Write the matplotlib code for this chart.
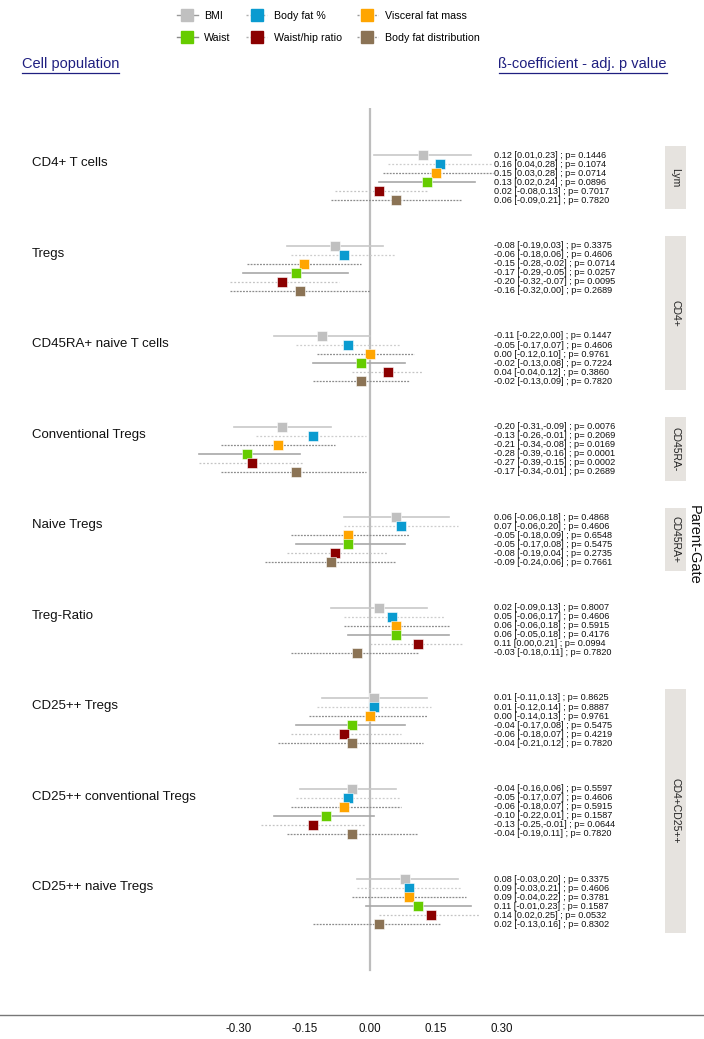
import matplotlib
matplotlib.use("Agg")
import matplotlib.pyplot as plt
from matplotlib.lines import Line2D
from matplotlib.patches import Rectangle

plt.rcParams['font.family'] = ['Liberation Sans', 'DejaVu Sans']

populations = ["CD4+ T cells", "Tregs", "CD45RA+ naive T cells", "Conventional Tregs",
               "Naive Tregs", "Treg-Ratio", "CD25++ Tregs", "CD25++ conventional Tregs",
               "CD25++ naive Tregs"]
series = ["BMI", "Body fat %", "Visceral fat mass", "Waist", "Waist/hip ratio",
          "Body fat distribution"]

# rows = populations, columns = series
beta = [
    [0.12, 0.16, 0.15, 0.13, 0.02, 0.06],
    [-0.08, -0.06, -0.15, -0.17, -0.20, -0.16],
    [-0.11, -0.05, 0.00, -0.02, 0.04, -0.02],
    [-0.20, -0.13, -0.21, -0.28, -0.27, -0.17],
    [0.06, 0.07, -0.05, -0.05, -0.08, -0.09],
    [0.02, 0.05, 0.06, 0.06, 0.11, -0.03],
    [0.01, 0.01, 0.00, -0.04, -0.06, -0.04],
    [-0.04, -0.05, -0.06, -0.10, -0.13, -0.04],
    [0.08, 0.09, 0.09, 0.11, 0.14, 0.02],
]
ci_low = [
    [0.01, 0.04, 0.03, 0.02, -0.08, -0.09],
    [-0.19, -0.18, -0.28, -0.29, -0.32, -0.32],
    [-0.22, -0.17, -0.12, -0.13, -0.04, -0.13],
    [-0.31, -0.26, -0.34, -0.39, -0.39, -0.34],
    [-0.06, -0.06, -0.18, -0.17, -0.19, -0.24],
    [-0.09, -0.06, -0.06, -0.05, 0.00, -0.18],
    [-0.11, -0.12, -0.14, -0.17, -0.18, -0.21],
    [-0.16, -0.17, -0.18, -0.22, -0.25, -0.19],
    [-0.03, -0.03, -0.04, -0.01, 0.02, -0.13],
]
ci_high = [
    [0.23, 0.28, 0.28, 0.24, 0.13, 0.21],
    [0.03, 0.06, -0.02, -0.05, -0.07, 0.00],
    [0.00, 0.07, 0.10, 0.08, 0.12, 0.09],
    [-0.09, -0.01, -0.08, -0.16, -0.15, -0.01],
    [0.18, 0.20, 0.09, 0.08, 0.04, 0.06],
    [0.13, 0.17, 0.18, 0.18, 0.21, 0.11],
    [0.13, 0.14, 0.13, 0.08, 0.07, 0.12],
    [0.06, 0.07, 0.07, 0.01, -0.01, 0.11],
    [0.20, 0.21, 0.22, 0.23, 0.25, 0.16],
]
p_adj = [
    [0.1446, 0.1074, 0.0714, 0.0896, 0.7017, 0.7820],
    [0.3375, 0.4606, 0.0714, 0.0257, 0.0095, 0.2689],
    [0.1447, 0.4606, 0.9761, 0.7224, 0.3860, 0.7820],
    [0.0076, 0.2069, 0.0169, 0.0001, 0.0002, 0.2689],
    [0.4868, 0.4606, 0.6548, 0.5475, 0.2735, 0.7661],
    [0.8007, 0.4606, 0.5915, 0.4176, 0.0994, 0.7820],
    [0.8625, 0.8887, 0.9761, 0.5475, 0.4219, 0.7820],
    [0.5597, 0.4606, 0.5915, 0.1587, 0.0644, 0.7820],
    [0.3375, 0.4606, 0.3781, 0.1587, 0.0532, 0.8302],
]
strip_labels = ["Lym", "CD4+", "CD45RA-", "CD45RA+", "CD4+CD25++"]
strip_groups = [(0, 0), (1, 2), (3, 3), (4, 4), (6, 8)]
xticks = [-0.30, -0.15, 0.00, 0.15, 0.30]

# styles
marker_colors = ["#C0C0C0", "#0A9BD0", "#FFA500", "#66CC00", "#8B0000", "#8B7355"]
line_styles = ["-", (0, (1.5, 1.5)), (0, (1.5, 1)), "-", (0, (1.5, 1.5)), (0, (1.5, 1))]
line_colors = ["#C8C8C8", "#CDCDCD", "#8C8C8C", "#A8A8A8", "#C4C4C4", "#8C8C8C"]
line_widths = [1.2, 0.9, 0.9, 1.2, 0.9, 0.9]

W, H = 704, 1039
fig = plt.figure(figsize=(W / 100, H / 100), dpi=100)

ax_top_px, ax_bot_px = 108, 1015
ax = fig.add_axes([0, 1 - ax_bot_px / H, 1, (ax_bot_px - ax_top_px) / H])
zero_px, scale = 370, 438.0
ax.set_xlim(-zero_px / scale, (W - zero_px) / scale)
row0_px, pitch = 155, 9.05
ax.set_ylim((ax_bot_px - row0_px) / pitch, -(row0_px - ax_top_px) / pitch)

ax.plot([0, 0], [-(row0_px - ax_top_px) / pitch, (970 - row0_px) / pitch],
        color="#BDBDBD", lw=1.6, zorder=1)

for k, pop in enumerate(populations):
    for j in range(len(series)):
        y = 10 * k + j
        ax.plot([ci_low[k][j], ci_high[k][j]], [y, y], color=line_colors[j],
                ls=line_styles[j], lw=line_widths[j], zorder=2)
        ax.plot(beta[k][j], y, marker="s", ms=7.0, color=marker_colors[j],
                mec="white", mew=0.4, zorder=3)
        ax.text(0.282, y, f"{beta[k][j]:.2f} [{ci_low[k][j]:.2f},{ci_high[k][j]:.2f}] ; p= {p_adj[k][j]:.4f}",
                fontsize=6.6, va="center", ha="left", color="#111111")
    ax.text(32 / W, 10 * k + 0.9, pop, transform=ax.get_yaxis_transform(),
            fontsize=9.5, va="center", ha="left", color="#111111")

for lab, (a, b) in zip(strip_labels, strip_groups):
    y0, y1 = 10 * a - 1, 10 * b + 6
    ax.add_patch(Rectangle((665 / W, y0), 21 / W, y1 - y0, transform=ax.get_yaxis_transform(),
                           facecolor="#E6E3DF", edgecolor="none", zorder=1))
    ax.text(675.5 / W, (y0 + y1) / 2, lab, transform=ax.get_yaxis_transform(),
            rotation=270, fontsize=7.5, ha="center", va="center", color="#222222")

ax.text(694 / W, (545 - row0_px) / pitch, "Parent-Gate", transform=ax.get_yaxis_transform(),
        rotation=270, fontsize=10.5, ha="center", va="center", color="#111111")

for s in ["top", "left", "right"]:
    ax.spines[s].set_visible(False)
ax.spines["bottom"].set_color("#777777")
ax.spines["bottom"].set_linewidth(1.0)
ax.set_yticks([])
ax.set_xticks(xticks)
ax.set_xticklabels([f"{t:.2f}" for t in xticks], fontsize=8.3)
ax.tick_params(axis="x", length=0, pad=6, colors="#111111")

# headers
hdr_color = "#1F1F80"
t1 = fig.text(22 / W, 1 - 64 / H, "Cell population", fontsize=10.5, color=hdr_color,
              ha="left", va="center")
t2 = fig.text(667 / W, 1 - 64 / H, "ß-coefficient - adj. p value", fontsize=10.5,
              color=hdr_color, ha="right", va="center")
fig.canvas.draw()
r = fig.canvas.get_renderer()
for t in (t1, t2):
    bb = t.get_window_extent(r).transformed(fig.transFigure.inverted())
    fig.add_artist(Line2D([bb.x0, bb.x1], [bb.y0 - 1.5 / H, bb.y0 - 1.5 / H],
                          transform=fig.transFigure, color=hdr_color, lw=0.9))

# legend (column-major fill so rows read BMI/Body fat %/Visceral, Waist/WHR/BFD)
order = [0, 3, 1, 4, 2, 5]
leg_line_colors = ["#9A9A9A", "#B0B0B0", "#9A9A9A", "#8A8A8A", "#B0B0B0", "#9A9A9A"]
handles = [Line2D([0], [0], color=leg_line_colors[i], ls=line_styles[i], lw=1.0,
                  marker="s", ms=9, mfc=marker_colors[i], mec=marker_colors[i])
           for i in order]
labels = [series[i] for i in order]
fig.legend(handles, labels, ncol=3, loc="center", bbox_to_anchor=(328 / W, 1 - 27 / H),
           frameon=False, fontsize=7.7, handlelength=2.0, handletextpad=0.6,
           columnspacing=1.4, labelspacing=1.1)

fig.savefig("out.png", dpi=100)
